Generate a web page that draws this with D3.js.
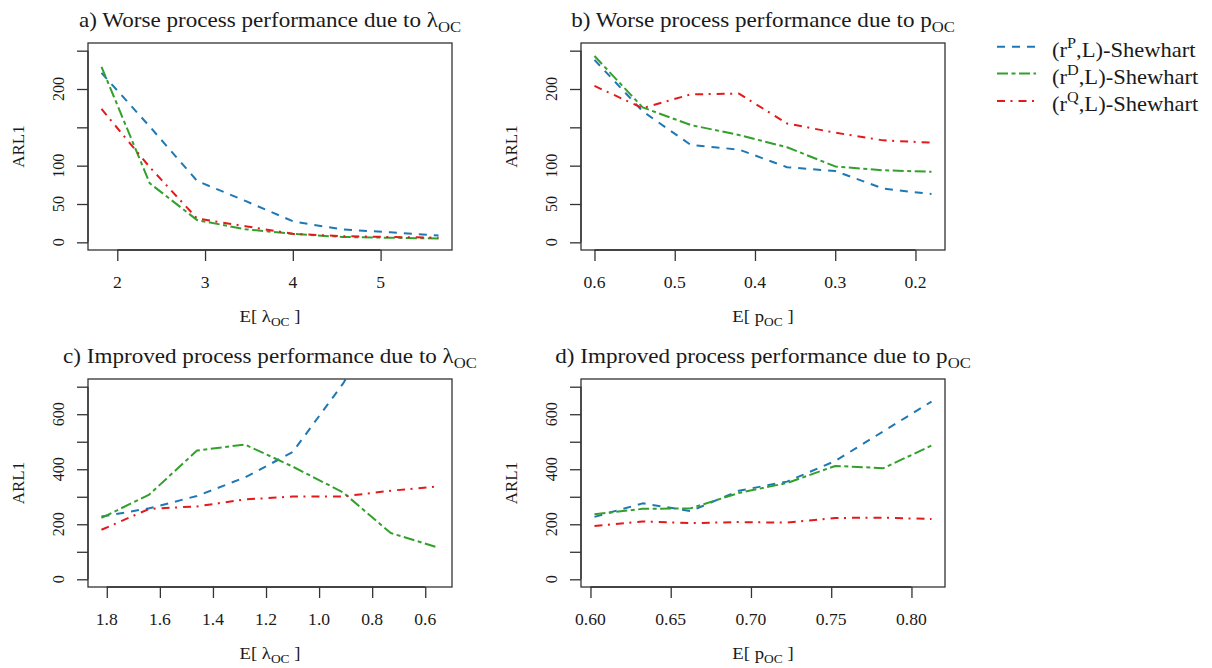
<!DOCTYPE html>
<html>
<head>
<meta charset="utf-8">
<script src="https://cdn.jsdelivr.net/npm/d3@7"></script>
<style>
  html, body { margin: 0; padding: 0; background: #fff; }
  svg { display: block; }
  text { font-family: "Liberation Serif", "DejaVu Serif", serif; fill: #1a1a1a; }
</style>
</head>
<body>
<svg id="chart" width="1212" height="668"></svg>
<script>
// ---------------- DATA ----------------
const seriesKeys = ["P", "D", "Q"];
const seriesColors = ["#1f78b4", "#33a02c", "#e31a1c"];

// a) Worse process performance due to lambda_OC
const xA = [1.82, 2.37, 2.91, 3.46, 4.01, 4.56, 5.11, 5.66];
const aP = [221, 151, 80, 54, 27, 17, 13, 9];
const aD = [229, 77, 29, 17, 11, 7, 6, 5];
const aQ = [174, 98, 31, 21, 11, 8, 7, 6];

// b) Worse process performance due to p_OC
const xB = [0.60, 0.54, 0.48, 0.42, 0.36, 0.30, 0.24, 0.18];
const bP = [238, 171, 127, 121, 98, 93, 70, 63];
const bD = [243, 176, 153, 140, 124, 99, 94, 92];
const bQ = [204, 175, 193, 194, 155, 143, 133, 130];

// c) Improved process performance due to lambda_OC
const xC = [1.82, 1.64, 1.46, 1.28, 1.10, 0.91, 0.73, 0.55];
const cP = [228, 258, 303, 370, 462, 711, 1000, 1300];
const cD = [223, 308, 468, 490, 410, 316, 168, 115];
const cQ = [180, 256, 265, 290, 301, 301, 322, 338];

// d) Improved process performance due to p_OC
const xD = [0.6025, 0.6325, 0.6625, 0.6925, 0.7225, 0.7525, 0.7825, 0.8125];
const dP = [227, 276, 248, 322, 355, 430, 538, 646];
const dD = [236, 256, 258, 314, 350, 412, 404, 486];
const dQ = [194, 210, 204, 208, 206, 223, 224, 219];

// ticks
const yTicksWorse = [0, 50, 100, 150, 200, 250];
const yLabelsWorse = [0, 50, 100, 200];
const yTicksImproved = [0, 100, 200, 300, 400, 500, 600, 700];
const yLabelsImproved = [0, 200, 400, 600];
const xTicksA = [2, 3, 4, 5];
const xTicksB = [0.6, 0.5, 0.4, 0.3, 0.2];
const xTicksC = [1.8, 1.6, 1.4, 1.2, 1.0, 0.8, 0.6];
const xTicksD = [0.60, 0.65, 0.70, 0.75, 0.80];

// ---------------- STYLE / LAYOUT ----------------
const SX = 1.1; // horizontal stretch of text
const dashes = ["8,7", "11,3.5,4,3.5", "8,5.5,2,6"];
const lineW = 2;

const svg = d3.select("#chart");

function addText(g, x, y, parts, size, anchor, rotate) {
  const t = g.append("text")
    .attr("font-size", size)
    .attr("text-anchor", anchor || "start")
    .attr("transform", rotate
      ? `translate(${x},${y}) rotate(-90)`
      : `translate(${x},${y}) scale(${SX},1)`);
  let cur = 0;
  parts.forEach(p => {
    const shift = p.sub ? 0.25 * size : (p.sup ? -0.42 * size : 0);
    t.append("tspan").text(p.t)
      .attr("dy", shift - cur)
      .attr("font-size", (p.sub || p.sup) ? size * 0.72 : size);
    cur = shift;
  });
  return t;
}

function padDomain(ext, rev) {
  const r = ext[1] - ext[0];
  const d = [ext[0] - 0.04 * r, ext[1] + 0.04 * r];
  return rev ? [d[1], d[0]] : d;
}

const panels = [
  { id: "a", title: [{t: "a) Worse process performance due to λ"}, {t: "OC", sub: true}],
    xlab: [{t: "E[ λ"}, {t: "OC", sub: true}, {t: " ]"}],
    x: xA, ys: [aP, aD, aQ], ylim: [0, 250], rev: false,
    xTicks: xTicksA, xFmt: d3.format("d"), yTicks: yTicksWorse, yLabels: yLabelsWorse,
    box: [88, 452, 43, 250] },
  { id: "b", title: [{t: "b) Worse process performance due to p"}, {t: "OC", sub: true}],
    xlab: [{t: "E[ p"}, {t: "OC", sub: true}, {t: " ]"}],
    x: xB, ys: [bP, bD, bQ], ylim: [0, 250], rev: true,
    xTicks: xTicksB, xFmt: d3.format(".1f"), yTicks: yTicksWorse, yLabels: yLabelsWorse,
    box: [581, 945, 43, 250] },
  { id: "c", title: [{t: "c) Improved process performance due to λ"}, {t: "OC", sub: true}],
    xlab: [{t: "E[ λ"}, {t: "OC", sub: true}, {t: " ]"}],
    x: xC, ys: [cP, cD, cQ], ylim: [0, 700], rev: true,
    xTicks: xTicksC, xFmt: d3.format(".1f"), yTicks: yTicksImproved, yLabels: yLabelsImproved,
    box: [88, 452, 379, 587] },
  { id: "d", title: [{t: "d) Improved process performance due to p"}, {t: "OC", sub: true}],
    xlab: [{t: "E[ p"}, {t: "OC", sub: true}, {t: " ]"}],
    x: xD, ys: [dP, dD, dQ], ylim: [0, 700], rev: false,
    xTicks: xTicksD, xFmt: d3.format(".2f"), yTicks: yTicksImproved, yLabels: yLabelsImproved,
    box: [581, 945, 379, 587] }
];

const defs = svg.append("defs");

panels.forEach(p => {
  const [x0, x1, y0, y1] = p.box;
  const g = svg.append("g");
  const xs = d3.scaleLinear().domain(padDomain(d3.extent(p.x), p.rev)).range([x0, x1]);
  const ys = d3.scaleLinear().domain(padDomain(p.ylim, false)).range([y1, y0]);

  defs.append("clipPath").attr("id", "clip-" + p.id)
    .append("rect").attr("x", x0).attr("y", y0).attr("width", x1 - x0).attr("height", y1 - y0);

  // lines
  const line = d3.line().x(d => xs(d[0])).y(d => ys(d[1]));
  const lg = g.append("g").attr("clip-path", `url(#clip-${p.id})`);
  p.ys.forEach((vals, i) => {
    lg.append("path")
      .datum(p.x.map((xv, j) => [xv, vals[j]]))
      .attr("d", line)
      .attr("fill", "none")
      .attr("stroke", seriesColors[i])
      .attr("stroke-width", lineW)
      .attr("stroke-dasharray", dashes[i])
      .attr("stroke-linejoin", "round");
  });

  // box
  g.append("rect").attr("x", x0).attr("y", y0).attr("width", x1 - x0).attr("height", y1 - y0)
    .attr("fill", "none").attr("stroke", "#333").attr("stroke-width", 1.3);

  // x axis
  const xAxis = d3.axisBottom(xs).tickValues(p.xTicks).tickFormat("").tickSize(11).tickSizeOuter(0);
  const gx = g.append("g").attr("transform", `translate(0,${y1})`).call(xAxis);
  gx.select(".domain").attr("stroke", "#333").attr("stroke-width", 1.3)
    .attr("d", `M${xs(p.xTicks[0])},0H${xs(p.xTicks[p.xTicks.length - 1])}`);
  gx.selectAll(".tick line").attr("stroke", "#333").attr("stroke-width", 1.3);
  p.xTicks.forEach(v => addText(g, xs(v), y1 + 38, [{t: p.xFmt(v)}], 16, "middle"));

  // y axis
  const yAxis = d3.axisLeft(ys).tickValues(p.yTicks).tickFormat("").tickSize(11).tickSizeOuter(0);
  const gy = g.append("g").attr("transform", `translate(${x0},0)`).call(yAxis);
  gy.select(".domain").attr("stroke", "#333").attr("stroke-width", 1.3)
    .attr("d", `M0,${ys(p.yTicks[0])}V${ys(p.yTicks[p.yTicks.length - 1])}`);
  gy.selectAll(".tick line").attr("stroke", "#333").attr("stroke-width", 1.3);
  p.yLabels.forEach(v => addText(g, x0 - 24.5, ys(v), [{t: String(v)}], 16, "middle", true));

  // titles
  addText(g, (x0 + x1) / 2, y0 - 16, p.title, 21, "middle");
  addText(g, (x0 + x1) / 2, y1 + 72, p.xlab, 17, "middle");
  addText(g, x0 - 64, (y0 + y1) / 2, [{t: "ARL1"}], 17, "middle", true);
});

// legend
const legRows = [46.7, 73.5, 101];
const lgd = svg.append("g");
seriesKeys.forEach((k, i) => {
  lgd.append("line")
    .attr("x1", 997).attr("x2", 1036).attr("y1", legRows[i]).attr("y2", legRows[i])
    .attr("stroke", seriesColors[i]).attr("stroke-width", lineW)
    .attr("stroke-dasharray", dashes[i]);
  addText(lgd, 1052, legRows[i] + 10,
    [{t: "(r"}, {t: k, sup: true}, {t: ",L)-Shewhart"}], 20.5, "start");
});
</script>
</body>
</html>
